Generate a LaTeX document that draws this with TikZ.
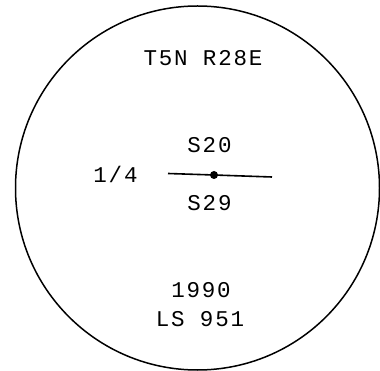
\documentclass[tikz,border=0pt]{standalone}
\usepackage{fontspec}
\setmainfont{Liberation Mono}[LetterSpace=8]
\begin{document}
\begin{tikzpicture}[x=1pt,y=-1pt,
  lbl/.style={font=\fontsize{22.5}{26}\selectfont, inner sep=0pt, anchor=center}]
\useasboundingbox (0,0) rectangle (380,371);
\node[draw, line width=1.5pt, circle, minimum size=364pt, inner sep=0pt] (c) at (197.5,188) {};
\node[lbl] (t) at (203,58) {T5N R28E};
\node[lbl] (s20) at (209.5,145) {S20};
\node[lbl] (s29) at (209.5,203) {S29};
\node[lbl] (q) at (115.5,174) {1/4};
\coordinate (a) at (168,173.5);
\coordinate (b) at (272,177);
\node[fill, circle, minimum size=8pt, inner sep=0pt] (d) at (214,175) {};
\draw[line width=1.6pt] (a) -- (d.center) -- (b);
\node[lbl] (y) at (201,290) {1990};
\node[lbl] (ls) at (200,319) {LS 951};
\end{tikzpicture}
\end{document}
